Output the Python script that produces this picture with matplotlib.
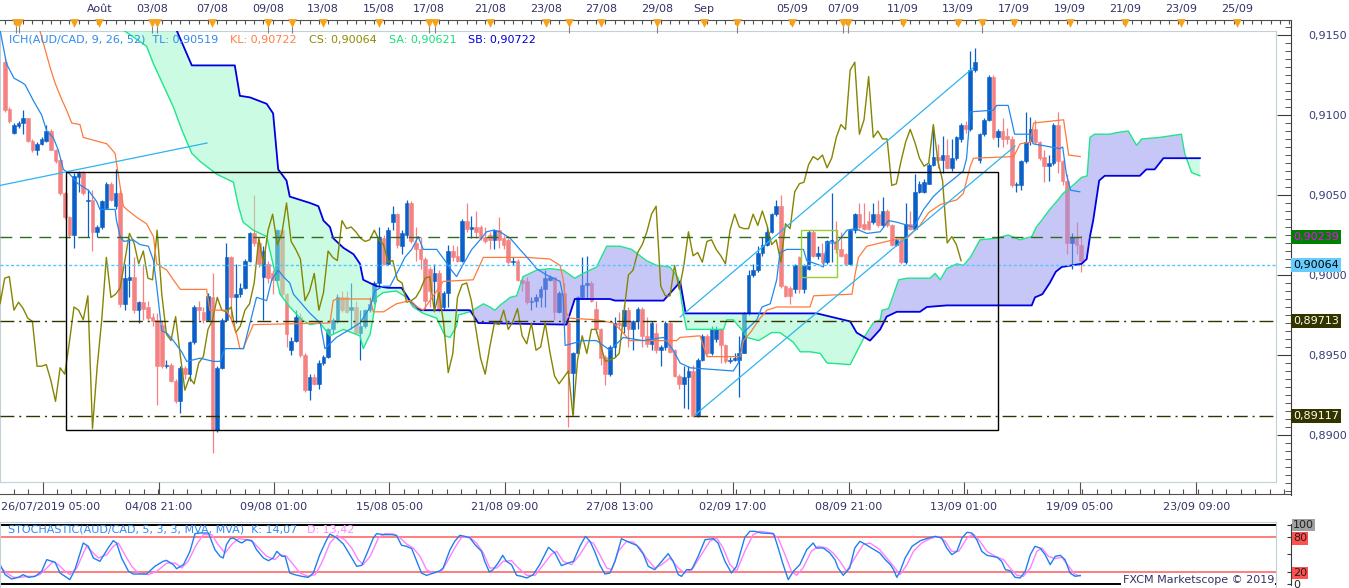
import numpy as np
import matplotlib
matplotlib.use('Agg')
import matplotlib.pyplot as plt
from matplotlib.patches import Polygon, Rectangle
from matplotlib.ticker import FixedLocator, MultipleLocator, FuncFormatter, NullFormatter

plt.rcParams['font.family'] = 'DejaVu Sans'

PIP = 1e-4  # prices below are written in pips (9133 -> 0.9133)

# AUD/CAD 4h candles, first bar 26/07/2019 05:00
opens = [
    9133, 9104, 9089, 9093, 9095, 9098, 9084, 9078, 9082, 9084,
    9090, 9078, 9072, 9051, 9036, 9025, 9061, 9064, 9046, 9047,
    9027, 9030, 9042, 9057, 9043, 9051, 8982, 8997, 8999, 8978,
    8983, 8980, 8974, 8972, 8969, 8943, 8944, 8934, 8921, 8942,
    8938, 8958, 8980, 8977, 8972, 8986, 8903, 8942, 8972, 9011,
    8986, 8988, 8992, 9009, 9026, 9020, 8999, 9007, 9001, 8997,
    9028, 8988, 8953, 8959, 8974, 8950, 8928, 8936, 8932, 8945,
    8949, 8966, 8972, 8986, 8986, 8978, 8980, 8964, 8968, 8978,
    8984, 8995, 9023, 9007, 9033, 9038, 9018, 9025, 9045, 9020,
    9016, 9010, 9004, 8996, 9001, 8980, 8989, 9015, 9012, 9009,
    9034, 9029, 9030, 9030, 9024, 9025, 9022, 9028, 9023, 9022,
    9008, 9009, 8997, 8996, 8983, 8984, 8986, 8991, 8997, 8999,
    8977, 8989, 8970, 8939, 8951, 8986, 8994, 8995, 8979, 8966,
    8949, 8938, 8955, 8970, 8968, 8978, 8966, 8971, 8979, 8962,
    8957, 8964, 8953, 8955, 8970, 8953, 8937, 8932, 8936, 8940,
    8912, 8947, 8962, 8951, 8960, 8966, 8956, 8946, 8947, 8947,
    8951, 8976, 9000, 9003, 9014, 9019, 9027, 9038, 9043, 8993,
    8992, 8991, 9011, 8991, 9004, 9027, 9012, 9014, 9008, 9021,
    9021, 9016, 9013, 9007, 9028, 9038, 9032, 9034, 9033, 9038,
    9031, 9040, 9031, 9019, 9022, 9008, 9032, 9029, 9052, 9052,
    9057, 9069, 9074, 9072, 9075, 9067, 9073, 9085, 9094, 9091,
    9128, 9072, 9088, 9097, 9124, 9086, 9090, 9087, 9085, 9056,
    9056, 9071, 9084, 9091, 9083, 9074, 9068, 9070, 9094, 9071,
    9059, 9020, 9024, 9019,
]
highs = [
    9136, 9105, 9095, 9096, 9103, 9098, 9085, 9083, 9086, 9094,
    9091, 9079, 9073, 9052, 9037, 9064, 9065, 9065, 9054, 9053,
    9031, 9047, 9058, 9058, 9066, 9053, 9007, 9023, 9011, 8984,
    9007, 8984, 8976, 8976, 8972, 8947, 8945, 8935, 8943, 8943,
    8959, 8981, 8984, 8980, 8989, 9001, 8943, 8973, 9020, 9012,
    9007, 8995, 9010, 9027, 9050, 9022, 9018, 9009, 9003, 9029,
    9030, 8989, 8961, 8978, 8976, 8951, 8938, 8938, 8947, 8950,
    8967, 8973, 8988, 8990, 8990, 8995, 8984, 8978, 8979, 8986,
    8996, 9030, 9025, 9030, 9043, 9039, 9028, 9047, 9046, 9030,
    9024, 9011, 9005, 9007, 9003, 8990, 9019, 9019, 9018, 9035,
    9045, 9037, 9040, 9031, 9030, 9027, 9029, 9036, 9025, 9023,
    9011, 9010, 8999, 8999, 8986, 8988, 8993, 9003, 9000, 8999,
    8990, 8995, 8971, 8952, 8987, 9011, 9012, 8996, 8984, 8967,
    8950, 8956, 8974, 8977, 8981, 8980, 8972, 8980, 8980, 8974,
    8971, 8970, 8956, 8971, 8971, 8954, 8938, 8943, 8943, 8944,
    8948, 8963, 8963, 8968, 8968, 8967, 8957, 8949, 8951, 8962,
    8977, 9003, 9007, 9018, 9024, 9030, 9039, 9047, 9050, 8994,
    8993, 9007, 9012, 9007, 9028, 9028, 9018, 9020, 9022, 9051,
    9034, 9027, 9014, 9029, 9039, 9045, 9045, 9040, 9045, 9047,
    9049, 9041, 9032, 9023, 9023, 9045, 9040, 9063, 9059, 9060,
    9070, 9093, 9082, 9087, 9085, 9085, 9087, 9095, 9096, 9140,
    9142, 9089, 9098, 9125, 9125, 9091, 9098, 9092, 9087, 9058,
    9072, 9102, 9099, 9097, 9084, 9078, 9075, 9095, 9102, 9072,
    9063, 9026, 9033, 9025,
]
lows = [
    9102, 9095, 9088, 9092, 9088, 9083, 9077, 9075, 9081, 9083,
    9078, 9070, 9050, 9035, 9023, 9017, 9052, 9050, 9024, 9015,
    9024, 9029, 9041, 9046, 9041, 8980, 8978, 8986, 8976, 8970,
    8972, 8972, 8968, 8919, 8942, 8942, 8933, 8920, 8914, 8935,
    8934, 8957, 8972, 8970, 8971, 8889, 8902, 8941, 8971, 8972,
    8970, 8986, 8991, 9008, 9018, 9005, 8972, 8995, 8988, 8996,
    8986, 8955, 8950, 8958, 8949, 8927, 8922, 8931, 8929, 8944,
    8948, 8963, 8970, 8977, 8976, 8966, 8963, 8947, 8967, 8977,
    8982, 8992, 9006, 9006, 9028, 9017, 9013, 9023, 9020, 9009,
    9004, 8979, 8980, 8978, 8977, 8979, 8980, 9009, 9008, 9008,
    9027, 9023, 9023, 9022, 9020, 9016, 9016, 9017, 9016, 9007,
    9006, 8996, 8990, 8982, 8978, 8980, 8980, 8980, 8996, 8972,
    8976, 8969, 8905, 8913, 8950, 8985, 8985, 8983, 8964, 8944,
    8931, 8937, 8949, 8966, 8964, 8955, 8953, 8966, 8955, 8955,
    8953, 8951, 8943, 8953, 8951, 8936, 8929, 8917, 8916, 8911,
    8911, 8946, 8950, 8950, 8958, 8945, 8945, 8945, 8946, 8924,
    8951, 8975, 8999, 9002, 9012, 9018, 9026, 9037, 8992, 8986,
    8982, 8989, 8989, 8989, 9003, 9011, 9010, 9007, 9007, 9008,
    9014, 9011, 9006, 9006, 9026, 9029, 9028, 9028, 9032, 9030,
    9030, 9030, 9018, 9018, 9007, 9007, 9028, 9028, 9051, 9051,
    9057, 9068, 9067, 9064, 9066, 9065, 9072, 9083, 9089, 9090,
    9127, 9070, 9087, 9096, 9085, 9080, 9080, 9082, 9055, 9052,
    9053, 9070, 9081, 9082, 9072, 9058, 9059, 9069, 9064, 9056,
    9013, 9004, 9013, 9002,
]
closes = [
    9103, 9096, 9094, 9095, 9098, 9084, 9078, 9082, 9085, 9090,
    9078, 9071, 9051, 9036, 9025, 9062, 9064, 9051, 9047, 9027,
    9030, 9046, 9057, 9047, 9051, 8982, 8998, 8999, 8978, 8983,
    8979, 8973, 8971, 8943, 8943, 8944, 8934, 8921, 8942, 8938,
    8958, 8980, 8978, 8972, 8987, 8904, 8942, 8972, 9011, 8986,
    8988, 8992, 9009, 9026, 9020, 9007, 9015, 8998, 8997, 9028,
    8988, 8963, 8959, 8974, 8950, 8928, 8936, 8932, 8945, 8949,
    8966, 8972, 8986, 8978, 8977, 8980, 8964, 8968, 8978, 8982,
    8995, 9023, 9007, 9028, 9038, 9019, 9026, 9045, 9021, 9016,
    9010, 8984, 8990, 9001, 8978, 8989, 9015, 9011, 9009, 9034,
    9029, 9030, 9027, 9023, 9021, 9022, 9028, 9022, 9019, 9008,
    9009, 8997, 8995, 8983, 8984, 8986, 8991, 8998, 8999, 8977,
    8989, 8970, 8939, 8951, 8986, 8994, 8995, 8984, 8966, 8948,
    8938, 8955, 8970, 8969, 8978, 8966, 8971, 8979, 8962, 8957,
    8970, 8953, 8955, 8970, 8952, 8937, 8932, 8936, 8940, 8912,
    8947, 8962, 8951, 8966, 8966, 8956, 8946, 8947, 8948, 8951,
    8976, 9000, 9003, 9014, 9019, 9027, 9038, 9043, 8993, 8987,
    8987, 9006, 8991, 9006, 9027, 9012, 9014, 9008, 9021, 9022,
    9016, 9012, 9007, 9028, 9038, 9030, 9029, 9029, 9038, 9031,
    9040, 9031, 9019, 9022, 9008, 9032, 9029, 9052, 9057, 9058,
    9069, 9074, 9072, 9075, 9067, 9073, 9086, 9094, 9091, 9128,
    9133, 9088, 9097, 9124, 9086, 9090, 9085, 9085, 9056, 9057,
    9071, 9083, 9091, 9083, 9073, 9068, 9070, 9094, 9071, 9059,
    9020, 9024, 9019, 9009,
]

# ichimoku lines as (bar, pips) vertices
tenkan = [
    (-1, 9153), (0.4, 9132), (2, 9123), (3.3, 9121), (4.4, 9119), (6.2, 9109), (8, 9100),
    (9.1, 9090), (10.5, 9086), (11.6, 9078), (12.7, 9066), (14.1, 9063), (15.9, 9057),
    (18.1, 9053), (19.9, 9046), (20.6, 9041), (23.9, 9041), (24.2, 9034), (25, 9024),
    (25.8, 9021), (27.8, 9022), (29.3, 9019), (31.1, 9018), (32.2, 9009), (32.9, 8993),
    (34, 8965), (35, 8964), (36.5, 8959), (38.3, 8952), (39.4, 8946), (42.3, 8948),
    (45.2, 8946), (46.6, 8946), (47.7, 8954), (51.7, 8954), (53.1, 8970), (54.5, 8986),
    (56.7, 8984), (57.8, 8997), (59.2, 9003), (60.3, 8999), (61.7, 8995), (62.5, 8988),
    (64.3, 8982), (66.1, 8976), (68.3, 8970), (69.3, 8954), (71.8, 8961), (74.7, 8966),
    (76.9, 8970), (79.1, 8980), (80.1, 8990), (81.9, 8993), (83.4, 8993), (85.6, 9005),
    (86.6, 9011), (88.1, 9016), (89.5, 9024), (90.6, 9016), (93.5, 9016), (95.3, 9009),
    (96.7, 9003), (97.8, 8999), (99.3, 9007), (101.1, 9016), (102.9, 9022), (104.3, 9027),
    (105.8, 9028), (107.2, 9027), (109.4, 9023), (111.5, 9016), (113.7, 9009), (115.1, 9004),
    (117.3, 9000), (120.2, 8996), (120.9, 8986), (121.3, 8956), (125.2, 8959), (128.1, 8959),
    (131, 8953), (133.9, 8961), (138.2, 8959), (142.6, 8961), (144.7, 8953), (146.2, 8945),
    (148.4, 8942), (157.7, 8940), (158.8, 8945), (159.9, 8964), (162.8, 8972), (163.9, 8980),
    (165.7, 8982), (167.1, 8997), (167.8, 9014), (169.3, 9016), (172.9, 9016), (173.6, 9009),
    (176.5, 9006), (177.2, 9005), (177.9, 9020), (180.1, 9020), (182.3, 9028), (184.1, 9029),
    (186.6, 9026), (189.5, 9027), (191.3, 9034), (193.1, 9033), (196.7, 9030), (197.4, 9033),
    (198.9, 9041), (201, 9049), (203.2, 9055), (205.4, 9060), (207.5, 9065), (208.2, 9073),
    (209, 9102), (214, 9103), (214.7, 9106), (217.2, 9106), (218.6, 9088), (221.9, 9088),
    (222.6, 9082), (228.4, 9079), (229, 9080), (229.8, 9063), (230.7, 9053), (232.7, 9052),
]
kijun = [
    (7, 9160), (7.6, 9153), (9.8, 9130), (10.9, 9120), (12.3, 9110), (13.4, 9103),
    (14.5, 9095), (16.3, 9094), (17, 9086), (22.1, 9082), (23.9, 9076), (24.2, 9070),
    (25, 9055), (25.7, 9043), (26.4, 9041), (28.6, 9036), (30.7, 9032), (32.2, 9024),
    (32.9, 9007), (35.1, 9003), (36.5, 8997), (38, 8991), (43.7, 8991), (44.4, 8978),
    (48, 8978), (49.1, 8972), (50.2, 8963), (50.9, 8954), (51.6, 8954), (53.8, 8969),
    (70.4, 8970), (71.1, 8984), (71.8, 8985), (79.1, 8985), (79.8, 8977), (82, 8977),
    (84.8, 8982), (87.7, 8984), (89.2, 8980), (90.6, 8978), (93.5, 8990), (94.9, 8996),
    (101.4, 8997), (103.6, 9011), (113, 9011), (118, 9010), (120.2, 9006), (120.9, 8997),
    (121.6, 8976), (122.3, 8973), (128.1, 8972), (131.7, 8970), (133.2, 8966), (135.3, 8959),
    (145.4, 8959), (146.2, 8961), (150.5, 8962), (152, 8949), (159.2, 8949), (159.9, 8959),
    (161.4, 8964), (163.5, 8973), (165, 8978), (167.1, 8980), (174.3, 8980), (175.1, 8987),
    (183.4, 8988), (184.1, 9001), (184.8, 9011), (186.6, 9018), (192.4, 9022), (195.3, 9023),
    (198.1, 9031), (200, 9039), (202.5, 9044), (206.1, 9047), (207.5, 9051), (209, 9068),
    (209.7, 9073), (218.4, 9074), (219.8, 9082), (222, 9083), (222.7, 9095), (229.2, 9097),
    (230.3, 9075), (232.8, 9074),
]
senkou_a = [
    (25, 9165), (25.7, 9153), (30.7, 9143), (32.2, 9132), (36.5, 9105), (38.3, 9091),
    (40.5, 9076), (42.3, 9071), (45.9, 9063), (49.5, 9058), (50.6, 9043), (51.6, 9033),
    (53.8, 9028), (56.7, 9024), (59.6, 8988), (61.7, 8980), (64.3, 8972), (66.1, 8969),
    (68.2, 8970), (70.4, 8962), (73.3, 8966), (76.9, 8962), (77.6, 8954), (79.1, 8963),
    (80.5, 8986), (81.9, 8989), (84.8, 8990), (87, 8986), (88.4, 8980), (90.6, 8976),
    (93.5, 8973), (95.3, 8962), (96.4, 8961), (97.8, 8968), (98.2, 8975), (100.7, 8977),
    (102.5, 8980), (103.6, 8982), (105, 8980), (106.1, 8978), (107.2, 8981), (109.4, 8986),
    (110.8, 8987), (112.2, 8999), (113.7, 9001), (115.1, 9003), (118, 9004), (120.9, 9003),
    (123.4, 8998), (125.2, 9001), (128.1, 9005), (130.3, 9018), (133.2, 9018), (135.7, 9016),
    (138.9, 9009), (141.1, 9006), (144, 9005), (145.8, 8998), (146.9, 8976), (147.6, 8966),
    (155.6, 8966), (156.3, 8972), (157.7, 8972), (159.5, 8966), (160.6, 8961), (163.2, 8959),
    (166, 8964), (167.8, 8964), (170.7, 8958), (172.2, 8952), (174.3, 8952), (176.5, 8951),
    (178, 8945), (183, 8944), (186.2, 8962), (188, 8970), (189.5, 8972), (189.9, 8978),
    (191.3, 8979), (193.5, 8997), (195.3, 8998), (200.3, 8998), (201.4, 9001), (202.5, 8997),
    (203.9, 9004), (206.1, 9007), (207.5, 9006), (209, 9011), (211.1, 9022), (214.7, 9023),
    (217.2, 9025), (219.7, 9022), (222.3, 9024), (223.3, 9030), (224.4, 9034), (226.2, 9041),
    (228, 9047), (229.1, 9051), (231.6, 9057), (233.1, 9061), (234.3, 9062), (234.9, 9086),
    (235.9, 9088), (239.2, 9088), (240.7, 9089), (243.2, 9090), (245, 9081), (246.1, 9085),
    (250, 9086), (254.7, 9088), (255.4, 9076), (256.9, 9064), (258.7, 9062),
]
senkou_b = [
    (36, 9165), (37.2, 9153), (40.5, 9131), (49.8, 9131), (50.9, 9112), (53.1, 9111),
    (56.7, 9107), (58.1, 9101), (59.2, 9066), (61, 9059), (61.7, 9049), (66.1, 9045),
    (67.9, 9043), (69, 9034), (70.4, 9030), (71.1, 9023), (73.3, 9017), (75.5, 9013),
    (76.9, 9007), (77.6, 8997), (80.5, 8993), (83, 8992), (85.9, 8992), (87.7, 8984),
    (89.5, 8979), (90.2, 8978), (100.7, 8978), (102.5, 8970), (121.6, 8969), (123.4, 8985),
    (131, 8985), (132.1, 8984), (142.6, 8984), (145.4, 8993), (146.2, 8996), (147.4, 8976),
    (175.8, 8976), (183, 8971), (184.4, 8964), (187.3, 8959), (189.5, 8966), (190.9, 8974),
    (193.1, 8977), (198.1, 8977), (199.6, 8980), (203.9, 8981), (222.3, 8981), (223, 8986),
    (224.6, 8988), (226.2, 8995), (227.5, 9002), (228.8, 9005), (231, 9006), (233.1, 9007),
    (234.2, 9010), (234.9, 9024), (235.6, 9034), (236.9, 9059), (238.1, 9062), (245.7, 9062),
    (247.1, 9066), (248.9, 9066), (250.8, 9073), (258.7, 9073),
]

# stochastic (5,3,3) as (bar, value)
stoch_k = [
    (-1, 32.6), (0.1, 15.5), (1.5, 8.1), (3, 10.9), (4, 15.5), (5.1, 10.9), (6.6, 12.6),
    (8, 21.2), (9.1, 41.2), (10.9, 36.6), (12, 18.3), (14.1, 6.9), (15.2, 24), (17, 69.7),
    (18.1, 64), (19.2, 44), (20.6, 38.3), (22.4, 61.1), (23.5, 73.7), (24.2, 69.7),
    (25.3, 44), (26.8, 21.2), (27.8, 16.6), (30.7, 16.6), (32.5, 29.7), (34.3, 38.3),
    (35, 40), (36.5, 32.6), (37.2, 25.7), (38.7, 32.6), (40.1, 55.4), (41.2, 85.7),
    (42.3, 86.8), (44.1, 86.8), (45.5, 58.3), (46.6, 46.9), (47.3, 44), (48, 66.8),
    (48.8, 77.1), (49.5, 78.3), (50.6, 72.5), (51.3, 69.7), (52.4, 75.4), (53.5, 73.7),
    (54.5, 58.3), (56, 44), (57.1, 39.4), (58.1, 44), (58.9, 55.4), (60, 46.9), (60.7, 46.9),
    (61.7, 18.3), (62.8, 15.5), (64.3, 12.6), (65.7, 10.9), (66.8, 18.3), (68.2, 49.7),
    (69.7, 75.4), (70.4, 85.1), (71.9, 78.3), (73.3, 68), (74.7, 49.7), (76.2, 29.7),
    (77.3, 31.5), (78.3, 49.7), (79.8, 78.3), (80.5, 85.7), (82, 84), (83.8, 84), (84.8, 82.8),
    (85.9, 65.7), (87, 64), (88.1, 60), (89.2, 38.3), (90.2, 18.3), (91.3, 14.3), (92.8, 18.3),
    (94.2, 22), (94.9, 26.9), (96.4, 58.3), (97.4, 72.5), (98.5, 82.8), (99.6, 81.1),
    (100.7, 78.3), (101.8, 66.8), (103.2, 55.4), (103.9, 38.3), (104.9, 20), (105.7, 24),
    (106.8, 35.4), (107.8, 48.6), (108.6, 38.3), (109.7, 32.6), (110.8, 14.3), (111.9, 12.6),
    (113, 9.8), (114.4, 15.5), (115.8, 32.6), (117.7, 62.3), (119.1, 52.6), (120.5, 30.9),
    (122, 35.4), (123.1, 38.3), (124.5, 64), (125.7, 81.1), (126.7, 72.5), (127.7, 55.4),
    (128.8, 32.6), (129.9, 16.6), (131, 18.3), (132.1, 38.3), (133.5, 77.1), (135, 71.4),
    (136.8, 65.7), (138.2, 50.9), (139.3, 29.7), (140.7, 24), (142.2, 38.3), (143.6, 51.4),
    (144.7, 38.3), (145.8, 15.5), (146.5, 12.6), (147.6, 24), (148.7, 24), (150.1, 46.9),
    (151.6, 75.4), (153.4, 77.1), (154.4, 69.7), (155.9, 38.3), (157.3, 18.3), (158.4, 29.7),
    (160.2, 79.4), (161.3, 89.7), (162.4, 89.7), (163.8, 86.8), (166.4, 85.7), (167.1, 69.7),
    (168.5, 32.6), (169.6, 6.9), (170.7, 21.2), (172.1, 32.6), (173.6, 58.3), (175, 69.7),
    (175.7, 61.1), (177.2, 61.1), (178.6, 52.6), (179.7, 41.2), (180.4, 26.9), (181.5, 14.3),
    (182.9, 26.9), (184, 61.1), (185.1, 72.5), (186.2, 68), (187.6, 61.1), (189.4, 52.6),
    (190.6, 41.2), (191.7, 32.6), (192.4, 24), (193.1, 10.9), (193.8, 21.2), (194.9, 44),
    (196.4, 64), (198.2, 73.7), (200, 78.3), (201.4, 81.1), (202.8, 78.3), (203.9, 61.1),
    (205, 49.7), (206.1, 55.4), (207.2, 78.3), (208.3, 88), (209.3, 86.8), (210.4, 75.4),
    (211.5, 55.4), (212.6, 48.6), (214.8, 45.2), (215.8, 38.3), (216.6, 24), (217.6, 22.3),
    (218.7, 10.9), (219.8, 9.8), (220.9, 21.2), (222, 49.7), (223, 64), (224.1, 61.1),
    (225.2, 49.7), (226.3, 32.6), (227.4, 46.9), (228.5, 48.6), (229.5, 41.2), (230.6, 18.3),
    (231.7, 12.6), (232.8, 14.1),
]
stoch_d = [
    (-1, 29.7), (0.4, 18.3), (1.9, 10.9), (3.3, 10.9), (4.8, 12.6), (6.2, 12.6), (7.6, 15.5),
    (9.1, 26.9), (10.5, 38.3), (11.6, 32.6), (13.1, 21.2), (14.1, 15.5), (15.6, 26.9),
    (17.7, 64), (18.8, 55.4), (20.3, 44), (22.1, 49.7), (23.5, 64), (24.6, 69.7), (26, 49.7),
    (27.5, 29.7), (28.9, 18.3), (31.1, 15.5), (32.9, 21.2), (35.1, 35.4), (36.9, 35.4),
    (38.3, 26.9), (39.7, 38.3), (41.5, 66.8), (43, 84), (44.8, 84), (46.2, 66.8), (47.7, 52.6),
    (49.1, 66.8), (50.6, 77.1), (52.4, 75.4), (53.8, 71.4), (55.3, 58.3), (56.7, 46.9),
    (58.5, 41.2), (59.6, 49.7), (61, 46.9), (62.5, 32.6), (63.9, 18.3), (65.7, 12.6),
    (67.2, 15.5), (68.6, 35.4), (70.4, 69.7), (71.9, 82.8), (73.6, 75.4), (75.1, 61.1),
    (76.5, 41.2), (77.6, 32.6), (79.1, 46.9), (80.9, 78.3), (82.3, 85.7), (84.1, 85.1),
    (85.6, 78.3), (87, 68), (88.4, 61.1), (89.9, 46.9), (91.3, 24), (92.8, 18.3), (94.6, 22),
    (95.6, 35.4), (97.4, 61.1), (98.9, 79.4), (100.7, 79.4), (102.1, 69.7), (103.6, 52.6),
    (105, 26.9), (106.5, 26.9), (107.9, 38.3), (109.7, 39.4), (111.2, 26.9), (113, 14.3),
    (114.8, 14.3), (116.6, 32.6), (118.4, 50.9), (119.5, 55.4), (120.9, 38.3), (122.7, 32.6),
    (124.5, 49.7), (126.3, 72.5), (127.4, 69.7), (128.8, 49.7), (130.3, 26.9), (131.4, 24),
    (132.8, 55.4), (134.6, 72.5), (136, 71.4), (137.5, 61.1), (138.9, 44), (140.7, 26.9),
    (142.2, 32.6), (144, 44), (145.8, 26.9), (147.2, 18.3), (149, 26.9), (150.8, 49.7),
    (152.6, 72.5), (154.1, 78.3), (155.5, 61.1), (157, 32.6), (158.4, 21.2), (160.2, 55.4),
    (162, 84), (163.5, 89.7), (166, 86.8), (167.4, 78.3), (168.9, 49.7), (170.3, 21.2),
    (171.4, 14.3), (172.8, 26.9), (174.6, 55.4), (176.1, 64), (177.9, 61.1), (179.3, 52.6),
    (180.8, 38.3), (182.2, 21.2), (184, 44), (185.8, 66.8), (187.3, 69.7), (189.4, 58.3),
    (190.9, 44), (192.4, 29.7), (193.8, 15.5), (195.3, 32.6), (196.7, 55.4), (198.5, 69.7),
    (200.3, 77.1), (202.1, 81.1), (203.6, 72.5), (205, 55.4), (206.5, 55.4), (208.3, 78.3),
    (209.7, 85.1), (211.1, 72.5), (212.6, 55.4), (214.4, 46.9), (216.2, 41.2), (217.6, 26.9),
    (219.1, 14.3), (220.5, 12.6), (222, 26.9), (223.4, 55.4), (224.5, 61.1), (225.9, 46.9),
    (227.4, 42.9), (228.8, 45.2), (230.3, 29.7), (231.7, 15.5), (232.8, 13.4),
]

# drawings on the chart
trend_lines = [((-1.0, 9056), (43.8, 9082.5)),
               ((146.2, 8973.8), (209.6, 9129.4)),
               ((149.4, 8912.5), (218.7, 9080.6))]
levels = [9023.9, 9006.4, 8971.3, 8911.7]
level_text = ['0,90239', '0,90064', '0,89713', '0,89117']
range_box = (13.2, 8903.1, 214.9, 9064.6)
small_box = (172.4, 8998.6, 180.1, 9028.1)

# time axes
top_labels = ['Août', '03/08', '07/08', '09/08', '13/08', '15/08', '17/08', '21/08', '23/08',
              '27/08', '29/08', 'Sep', '05/09', '07/09', '11/09', '13/09', '17/09', '19/09',
              '21/09', '23/09', '25/09']
top_label_pos = [20.5, 31.9, 44.9, 57.0, 68.9, 81.0, 91.8, 105.0, 117.2, 129.1, 141.2, 151.4,
                 170.4, 181.4, 194.4, 206.3, 218.5, 230.6, 242.5, 254.6, 266.7]
event_pos = top_label_pos + [2.4, 3.1, 15.0, 33.0, 62.1, 93.1, 122.1, 158.4, 182.6, 211.5]
week_pos = [2.4, 3.1, 31.8, 33.0, 57.0, 62.1, 91.8, 93.1, 122.1, 141.2, 158.4, 181.4, 182.6, 211.5]
time_labels = ['04/08 21:00', '09/08 01:00', '15/08 05:00', '21/08 09:00', '27/08 13:00',
               '02/09 17:00', '08/09 21:00', '13/09 01:00', '19/09 05:00', '23/09 09:00']
time_pos = [8.2, 33.4, 58.3, 83.2, 108.3, 133.2, 157.6, 182.7, 207.6, 232.7, 257.9]

BLUE, RED = '#0A60C8', '#F58282'
TXT = '#333366'

W, H = 1349, 588
fig = plt.figure(figsize=(W / 100, H / 100), dpi=100, facecolor='white')


def box(x0, y0, x1, y1):
    return [x0 / W, 1 - y1 / H, (x1 - x0) / W, (y1 - y0) / H]


def bar_at(px):
    return (px - 4.7) / 4.62


def price_at(py):
    return 0.9 + (275 - py) / 16000


def stoch_at(py):
    return (583.7 - py) / 0.584


# ---- main price panel
ax = fig.add_axes(box(0, 31, 1276, 482))
ax.set_xlim(bar_at(0), bar_at(1276))
ax.set_ylim(price_at(482), price_at(31))
ax.set_xticks([])
ax.set_yticks([])
for s in ax.spines.values():
    s.set_color('#C4CFDA')

o = np.array(opens) * PIP
h = np.array(highs) * PIP
l = np.array(lows) * PIP
c = np.array(closes) * PIP
idx = np.arange(len(c))
cols = np.where(c >= o, BLUE, RED)
ax.vlines(idx, l, h, colors=cols, lw=0.9, zorder=2)
ax.bar(idx, np.maximum(np.abs(c - o), 0.00007), bottom=np.minimum(o, c), width=0.78,
       color=cols, edgecolor=cols, linewidth=0.4, zorder=2)

# kumo: green where SB is above SA, lavender where SA is above SB
sa = np.array(senkou_a, float)
sa[:, 1] *= PIP
sb = np.array(senkou_b, float)
sb[:, 1] *= PIP
ring = np.vstack([sa, sb[::-1]])
above = np.vstack([sa, [[sa[-1, 0], 1.0], [sa[0, 0], 1.0]]])
below = np.vstack([sa, [[sa[-1, 0], 0.8], [sa[0, 0], 0.8]]])
for shade, half in (('#99F9C9', above), ('#9191F1', below)):
    p = Polygon(ring, closed=True, facecolor=shade, edgecolor='none', alpha=0.5, zorder=3)
    ax.add_patch(p)
    p.set_clip_path(Polygon(half, closed=True, transform=ax.transData))

ax.plot(sa[:, 0], sa[:, 1], color='#1EE68A', lw=1.0, zorder=4)
ax.plot(sb[:, 0], sb[:, 1], color='#0000E0', lw=1.3, zorder=4)
ax.plot(idx - 26, c, color='#858500', lw=1.0, zorder=4)   # chikou span
for pts, colr in ((kijun, '#FF7A3A'), (tenkan, '#2288EE')):
    a = np.array(pts, float)
    ax.plot(a[:, 0], a[:, 1] * PIP, color=colr, lw=0.9, zorder=4)

ax.axhline(levels[0] * PIP, color='#2E6B1E', lw=1, ls=(0, (8.5, 5.5)), zorder=4)
ax.axhline(levels[1] * PIP, color='#55C6FF', lw=1, ls=(0, (2.2, 1.6)), zorder=4)
for v in levels[2:]:
    ax.axhline(v * PIP, color='#333300', lw=1, ls=(0, (10, 3.5, 1.5, 3.5)), zorder=4)

for (x0, y0), (x1, y1) in trend_lines:
    ax.plot([x0, x1], [y0 * PIP, y1 * PIP], color='#2DB4F0', lw=0.9, zorder=5)
for (x0, y0, x1, y1), colr in ((range_box, 'black'), (small_box, '#9ACD32')):
    ax.add_patch(Rectangle((x0, y0 * PIP), x1 - x0, (y1 - y0) * PIP, fill=False,
                           edgecolor=colr, lw=1, zorder=5))

# ---- price scale on the right
axp = fig.add_axes(box(1291, 20, 1292, 495))
axp.set_ylim(price_at(495), price_at(20))
axp.patch.set_visible(False)
for side in ('top', 'right', 'bottom'):
    axp.spines[side].set_visible(False)
axp.spines['left'].set_color('#3A3A3A')
axp.set_xticks([])
axp.yaxis.set_major_locator(MultipleLocator(0.005))
axp.yaxis.set_minor_locator(MultipleLocator(0.0005))
axp.yaxis.set_major_formatter(FuncFormatter(lambda v, _: f'{v:.4f}'.replace('.', ',')))
axp.tick_params(axis='y', which='both', direction='out', left=True, right=False,
                labelleft=False, labelright=True, color='#3A3A3A')
axp.tick_params(axis='y', which='major', length=10, pad=1.5, labelsize=8, labelcolor='#3B3B7A')
axp.tick_params(axis='y', which='minor', length=4.3)

styles = [('#008000', '#FF00FF'), ('#66CCFF', 'black'), ('#333300', '#FFFFE8'), ('#333300', '#FFFFE8')]
for v, txt, (bg, fg) in zip(levels, level_text, styles):
    axp.text(2.2, v * PIP, txt, transform=axp.get_yaxis_transform(), ha='left', va='center',
             fontsize=8, color=fg, clip_on=False, zorder=6,
             bbox=dict(boxstyle='square,pad=0.18', fc=bg, ec='none'))

# ---- date strip on top
axt = fig.add_axes(box(0, 2, 1291, 20))
axt.set_xlim(bar_at(0), bar_at(1291))
axt.set_ylim(0, 1)
axt.patch.set_visible(False)
for side in ('top', 'right', 'left'):
    axt.spines[side].set_visible(False)
axt.spines['bottom'].set_color('#505050')
axt.set_yticks([])
axt.xaxis.set_major_locator(FixedLocator(week_pos))
axt.xaxis.set_minor_locator(MultipleLocator(2))
axt.xaxis.set_major_formatter(NullFormatter())
axt.tick_params(axis='x', which='major', direction='out', length=9, color='#808080', width=0.8)
axt.tick_params(axis='x', which='minor', direction='out', length=3, color='#505050', width=0.8)
tx = axt.get_xaxis_transform()
for k, t in zip(top_label_pos, top_labels):
    axt.text(k, 0.62, t, transform=tx, ha='center', va='center', fontsize=8, color=TXT)
axt.scatter(event_pos, [-0.14] * len(event_pos), transform=tx, marker='v', s=40,
            color='#F5A21C', linewidths=0, clip_on=False, zorder=5)

# ---- time strip at the bottom
axb = fig.add_axes(box(0, 482, 1291, 494))
axb.set_xlim(bar_at(0), bar_at(1291))
axb.set_ylim(0, 1)
axb.patch.set_visible(False)
for side in ('top', 'right', 'left'):
    axb.spines[side].set_visible(False)
axb.spines['bottom'].set_color('#505050')
axb.set_yticks([])
axb.xaxis.set_major_locator(FixedLocator(time_pos))
axb.xaxis.set_minor_locator(FixedLocator(np.arange(time_pos[0] - 25, time_pos[-1] + 25, 25 / 8)))
axb.xaxis.set_major_formatter(NullFormatter())
axb.tick_params(axis='x', which='major', direction='in', length=9, color='#505050', width=0.8)
axb.tick_params(axis='x', which='minor', direction='in', length=3.5, color='#505050', width=0.8)
bx = axb.get_xaxis_transform()
axb.text(bar_at(1), -1.08, '26/07/2019 05:00', transform=bx, ha='left', va='center',
         fontsize=8, color=TXT)
for k, t in zip(time_pos[1:], time_labels):
    axb.text(k, -1.08, t, transform=bx, ha='center', va='center', fontsize=8, color=TXT)

# ---- stochastic panel
axk = fig.add_axes(box(0, 522, 1276, 590))
axk.set_xlim(bar_at(0), bar_at(1276))
axk.set_ylim(stoch_at(590), stoch_at(522))
axk.set_xticks([])
axk.set_yticks([])
for s in axk.spines.values():
    s.set_color('#C4CFDA')
for v in (100, 0):
    axk.axhline(v, color='black', lw=1.4)
for v in (80, 20):
    axk.axhline(v, color='#FF5A5A', lw=1.1)
dd = np.array(stoch_d)
kk = np.array(stoch_k)
axk.plot(dd[:, 0], dd[:, 1], color='#FF80FF', lw=1)
axk.plot(kk[:, 0], kk[:, 1], color='#1E80F0', lw=1)
axk.text(0.9985, stoch_at(580), 'FXCM Marketscope © 2019', transform=axk.get_yaxis_transform(),
         ha='right', va='center', fontsize=8, color=TXT, zorder=10,
         bbox=dict(boxstyle='square,pad=0.12', fc='white', ec='none'))

axs = fig.add_axes(box(1291, 522, 1292, 590))
axs.set_ylim(stoch_at(590), stoch_at(522))
axs.patch.set_visible(False)
for side in ('top', 'right', 'bottom'):
    axs.spines[side].set_visible(False)
axs.spines['left'].set_color('#3A3A3A')
axs.spines['left'].set_bounds(-2, 103)
axs.set_xticks([])
axs.set_yticks([0, 20, 50, 80, 100])
axs.tick_params(axis='y', direction='out', length=3, color='#3A3A3A', labelleft=False)
for v, txt, bg in ((100, '100', '#A0A0A0'), (77.5, '80', '#FF5050'),
                   (18.5, '20', '#FF5050'), (-1.5, '0', None)):
    bb = dict(boxstyle='square,pad=0.1', fc=bg, ec='none') if bg else None
    axs.text(2.2, v, txt, transform=axs.get_yaxis_transform(), ha='left', va='center',
             fontsize=8, color='#202020', clip_on=False, bbox=bb)

# ---- indicator captions
fig.canvas.draw()
rend = fig.canvas.get_renderer()


def caption(parts, x, y, gap):
    for txt, colr in parts:
        t = fig.text(x / W, 1 - y / H, txt, color=colr, fontsize=8, ha='left', va='center')
        x = t.get_window_extent(rend).x1 + gap


caption([('ICH(AUD/CAD, 9, 26, 52)  TL: 0,90519', '#2E8AF0'), ('KL: 0,90722', '#FF7F40'),
         ('CS: 0,90064', '#8C8C00'), ('SA: 0,90621', '#14E07A'), ('SB: 0,90722', '#0000D8')],
        9, 40, 12)
caption([('STOCHASTIC(AUD/CAD, 5, 3, 3, MVA, MVA)  K: 14,07', '#2E8AF0'), ('D: 13,42', '#FF88FF')],
        8, 530, 10)

fig.savefig('out.png', dpi=100, facecolor='white')
